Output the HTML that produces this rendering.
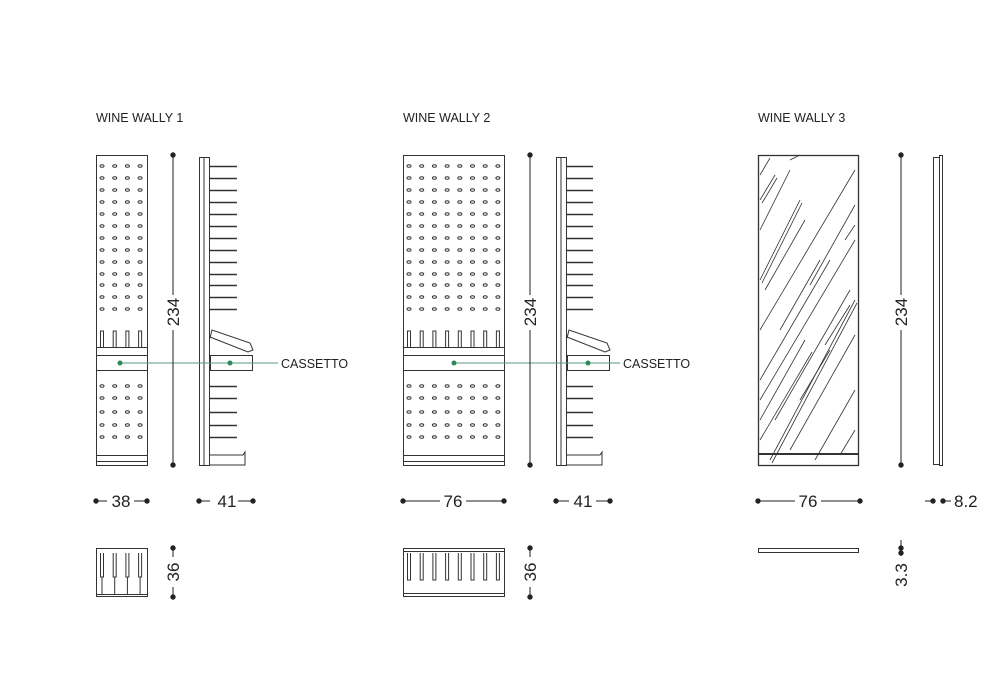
<!DOCTYPE html>
<html><head><meta charset="utf-8"><style>
html,body{margin:0;padding:0;background:#fff;}
svg{display:block;}
text{font-family:"Liberation Sans",sans-serif;fill:#222;}
.t{font-size:12.5px;}
.d{font-size:17px;}
</style></head><body>
<svg id="s" width="1000" height="700" viewBox="0 0 1000 700" xmlns="http://www.w3.org/2000/svg">
<g fill="none" stroke="#333" stroke-width="1" id="g">
<rect x="96.5" y="155.5" width="51" height="310"/>
<line x1="96" y1="347.5" x2="148" y2="347.5"/>
<rect x="96.5" y="355.5" width="51" height="15"/>
<line x1="96" y1="455.5" x2="148" y2="455.5"/>
<line x1="96" y1="461.5" x2="148" y2="461.5"/>
<rect x="199.5" y="157.5" width="10" height="308"/>
<line x1="204" y1="157" x2="204" y2="465"/>
<path d="M210 338 L212 330 L250 343 L253 350 L248 352 L210 337"/>
<rect x="210.5" y="355.5" width="42" height="15"/>
<path d="M210 455 L243 455 L245 452 L245 465 L210 465"/>
<rect x="403.5" y="155.5" width="101" height="310"/>
<line x1="403" y1="347.5" x2="505" y2="347.5"/>
<rect x="403.5" y="355.5" width="101" height="15"/>
<line x1="403" y1="455.5" x2="505" y2="455.5"/>
<line x1="403" y1="461.5" x2="505" y2="461.5"/>
<rect x="556.5" y="157.5" width="10" height="308"/>
<line x1="561" y1="157" x2="561" y2="465"/>
<path d="M567 338 L569 330 L607 343 L610 350 L605 352 L567 337"/>
<rect x="567.5" y="355.5" width="42" height="15"/>
<path d="M567 455 L600 455 L602 452 L602 465 L567 465"/>
<rect x="758.5" y="155.5" width="100" height="310" stroke-width="1.3"/>
<line x1="758" y1="454" x2="859" y2="454" stroke-width="2"/>
<rect x="933.5" y="157.5" width="6" height="307"/>
<rect x="939.5" y="155.5" width="3" height="310"/>
<rect x="96.5" y="548.5" width="51" height="48"/>
<line x1="96" y1="594.5" x2="148" y2="594.5"/>
<rect x="403.5" y="548.5" width="101" height="48"/>
<line x1="403" y1="551.5" x2="505" y2="551.5"/>
<line x1="403" y1="593.5" x2="505" y2="593.5"/>
<rect x="758.5" y="548.5" width="100" height="4"/>
</g>
<g stroke="#5a9a80" stroke-width="1" fill="#2a8a5a">
<line x1="120" y1="363" x2="278" y2="363"/>
<circle cx="120" cy="363" r="2.5" stroke="none"/>
<circle cx="230" cy="363" r="2.5" stroke="none"/>
<line x1="454" y1="363" x2="620" y2="363"/>
<circle cx="454" cy="363" r="2.5" stroke="none"/>
<circle cx="588" cy="363" r="2.5" stroke="none"/>
</g>
<g stroke="#222" stroke-width="1" fill="#222">
<line x1="173" y1="155" x2="173" y2="295"/><line x1="173" y1="330" x2="173" y2="465"/>
<circle cx="173" cy="155" r="2.2"/><circle cx="173" cy="465" r="2.2"/>
<line x1="530" y1="155" x2="530" y2="295"/><line x1="530" y1="330" x2="530" y2="465"/>
<circle cx="530" cy="155" r="2.2"/><circle cx="530" cy="465" r="2.2"/>
<line x1="901" y1="155" x2="901" y2="295"/><line x1="901" y1="330" x2="901" y2="465"/>
<circle cx="901" cy="155" r="2.2"/><circle cx="901" cy="465" r="2.2"/>
<line x1="96" y1="501" x2="107" y2="501"/><line x1="134" y1="501" x2="147" y2="501"/>
<circle cx="96" cy="501" r="2.2"/><circle cx="147" cy="501" r="2.2"/>
<line x1="199" y1="501" x2="210" y2="501"/><line x1="238" y1="501" x2="253" y2="501"/>
<circle cx="199" cy="501" r="2.2"/><circle cx="253" cy="501" r="2.2"/>
<line x1="403" y1="501" x2="440" y2="501"/><line x1="466" y1="501" x2="504" y2="501"/>
<circle cx="403" cy="501" r="2.2"/><circle cx="504" cy="501" r="2.2"/>
<line x1="556" y1="501" x2="569" y2="501"/><line x1="596" y1="501" x2="610" y2="501"/>
<circle cx="556" cy="501" r="2.2"/><circle cx="610" cy="501" r="2.2"/>
<line x1="758" y1="501" x2="795" y2="501"/><line x1="821" y1="501" x2="860" y2="501"/>
<circle cx="758" cy="501" r="2.2"/><circle cx="860" cy="501" r="2.2"/>
<line x1="925" y1="501" x2="933" y2="501"/><line x1="943" y1="501" x2="951" y2="501"/>
<circle cx="933" cy="501" r="2.2"/><circle cx="943" cy="501" r="2.2"/>
<line x1="173" y1="548" x2="173" y2="557"/><line x1="173" y1="587" x2="173" y2="597"/>
<circle cx="173" cy="548" r="2.2"/><circle cx="173" cy="597" r="2.2"/>
<line x1="530" y1="548" x2="530" y2="557"/><line x1="530" y1="587" x2="530" y2="597"/>
<circle cx="530" cy="548" r="2.2"/><circle cx="530" cy="597" r="2.2"/>
<line x1="901" y1="540" x2="901" y2="556"/>
<circle cx="901" cy="548" r="2.2"/><circle cx="901" cy="553" r="2.2"/>
</g>
<text class="t" x="96" y="122">WINE WALLY 1</text>
<text class="t" x="403" y="122">WINE WALLY 2</text>
<text class="t" x="758" y="122">WINE WALLY 3</text>
<text class="t" x="281" y="368">CASSETTO</text>
<text class="t" x="623" y="368">CASSETTO</text>
<text class="d" x="121" y="507" text-anchor="middle">38</text>
<text class="d" x="227" y="507" text-anchor="middle">41</text>
<text class="d" x="453" y="507" text-anchor="middle">76</text>
<text class="d" x="583" y="507" text-anchor="middle">41</text>
<text class="d" x="808" y="507" text-anchor="middle">76</text>
<text class="d" x="954" y="507">8.2</text>
<text class="d" transform="translate(179,312) rotate(-90)" text-anchor="middle">234</text>
<text class="d" transform="translate(536,312) rotate(-90)" text-anchor="middle">234</text>
<text class="d" transform="translate(907,312) rotate(-90)" text-anchor="middle">234</text>
<text class="d" transform="translate(179,572) rotate(-90)" text-anchor="middle">36</text>
<text class="d" transform="translate(536,572) rotate(-90)" text-anchor="middle">36</text>
<text class="d" transform="translate(907,575) rotate(-90)" text-anchor="middle">3.3</text>
</svg>
<script>
(function(){
var g=document.getElementById('g'),h='';
var rows=[166,178,190,202,214,226,238,250,262,274,285,297,309],low=[386,398,412,425,437];
var all=rows.concat(low);
function fr(x0,n){for(var i=0;i<n;i++){var x=x0+i*12.7;
 all.forEach(function(y){h+='<ellipse cx="'+x+'" cy="'+y+'" rx="2" ry="1.3"/>';});
 h+='<path d="M'+(x-1.5)+' 347 V331 H'+(x+1.5)+' V347"/>';}}
fr(102,4);fr(409,8);
function side(x0,len){all.forEach(function(y){h+='<line x1="'+x0+'" y1="'+y+'.5" x2="'+(x0+len)+'" y2="'+y+'.5" stroke-width="1.4"/>';});}
side(210,27);side(567,26);
function plan(x0,n){for(var i=0;i<n;i++){var x=x0+i*12.7;h+='<path d="M'+(x-1.5)+' 553 V'+(n==4?577:580)+' H'+(x+1.5)+' V553"/>';if(n==4)h+='<line x1="'+x+'" y1="577" x2="'+x+'" y2="594"/>';}}
plan(102,4);plan(409,8);
var L=[[760,200,775,175],[760,280,800,200],[760,230,790,170],[765,290,805,220],[770,460,855,300],[760,330,855,170],[760,400,855,240],[760,440,812,352],[775,420,850,290],[760,380,830,260],[790,450,855,335],[815,460,855,390],[840,455,855,430],[760,420,805,340],[845,240,855,225],[760,175,770,158],[790,160,800,155],[810,285,855,205],[800,400,830,350],[825,345,850,305],[780,330,820,260],[762,203,777,178],[762,283,802,203],[772,463,857,303]];
L.forEach(function(l){h+='<line x1="'+l[0]+'" y1="'+l[1]+'" x2="'+l[2]+'" y2="'+l[3]+'" stroke-width="0.8"/>';});
g.insertAdjacentHTML('beforeend',h);
})();
</script>
</body></html>
